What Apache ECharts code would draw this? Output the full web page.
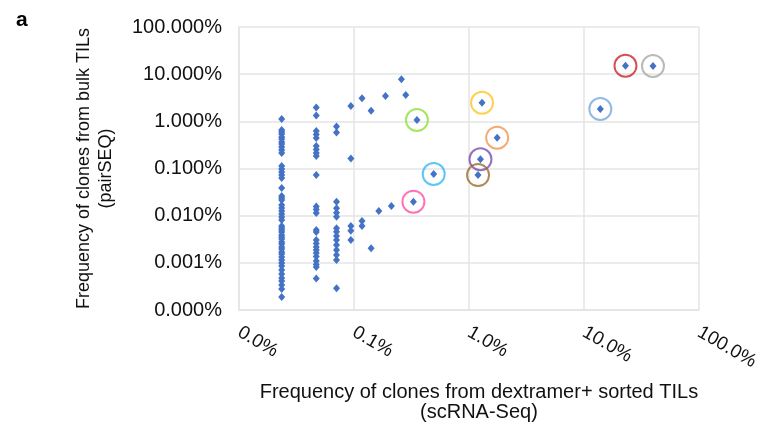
<!DOCTYPE html>
<html>
<head>
<meta charset="utf-8">
<script src="https://cdn.jsdelivr.net/npm/echarts@6/dist/echarts.min.js"></script>
<style>html,body{margin:0;padding:0;background:#fff;}#c{width:762px;height:429px;}</style>
</head>
<body>
<div id="c"></div>
<script>
// Tick labels (log decades)
const xTickLabels = ['0.0%', '0.1%', '1.0%', '10.0%', '100.0%'];
const yTickLabels = ['0.000%', '0.001%', '0.010%', '0.100%', '1.000%', '10.000%', '100.000%'];

// Column x positions (percent, dextramer+ sorted TILs)
const col1X = 0.0235, col2X = 0.047, col3X = 0.0705, col4X = 0.094, col5X = 0.1175;
// Column y values (percent, bulk TILs)
const col1Y = [1.12, 0.655, 0.594, 0.539, 0.466, 0.423, 0.365, 0.331, 0.286, 0.247, 0.213, 0.113, 0.0975, 0.0843, 0.0728, 0.0629, 0.0386, 0.0261, 0.0237, 0.0215, 0.0168, 0.0146, 0.0126, 0.0109, 0.00938, 0.0081, 0.00604, 0.00548, 0.00497, 0.00451, 0.00389, 0.00353, 0.00321, 0.00277, 0.00251, 0.00217, 0.00197, 0.0017, 0.00154, 0.00133, 0.00115, 0.000993, 0.000857, 0.000705, 0.000581, 0.000478, 0.000412, 0.000339, 0.000279, 0.000189];
const col2Y = [1.96, 1.33, 0.624, 0.526, 0.444, 0.300, 0.253, 0.213, 0.184, 0.0728, 0.0157, 0.0135, 0.0114, 0.00497, 0.00451, 0.00305, 0.00257, 0.00217, 0.00187, 0.00162, 0.00136, 0.00109, 0.000923, 0.000817, 0.000466];
const col3Y = [0.778, 0.579, 0.0198, 0.0143, 0.0116, 0.00951, 0.0054, 0.00457, 0.00371, 0.00305, 0.00239, 0.00187, 0.00147, 0.00115, 0.000288];
const col4Y = [2.11, 0.163, 0.00604, 0.0048, 0.00305];
const col5Y = [3.08, 0.00771, 0.00604];
// Other single clones
const otherX = [0.141, 0.141, 0.1645, 0.188, 0.2115, 0.2585, 0.282];
const otherY = [1.68, 0.00203, 0.0126, 3.44, 0.016, 7.78, 3.62];
// Highlighted (circled) clones
const hlX = [0.353, 0.329, 0.494, 1.30, 1.76, 1.26, 1.20, 13.9, 23.0, 39.9];
const hlY = [1.07, 0.0198, 0.0766, 2.48, 0.45, 0.157, 0.0724, 1.83, 15.1, 14.9];
const ringColors = ['#8FE13A', '#FF4FA3', '#35B8F2', '#FFC425', '#F29550', '#7B4FB0', '#9C6A2E', '#76A9DD', '#C9252B', '#A9A9A9'];

const pts = [];
[[col1X, col1Y], [col2X, col2Y], [col3X, col3Y], [col4X, col4Y], [col5X, col5Y]].forEach(([x, ys]) => ys.forEach(y => pts.push([x, y])));
otherX.forEach((x, i) => pts.push([x, otherY[i]]));
hlX.forEach((x, i) => pts.push([x, hlY[i]]));

const rings = hlX.map((x, i) => ({
  value: [x, hlY[i]],
  itemStyle: { color: 'rgba(0,0,0,0)', borderColor: ringColors[i], borderWidth: 2 }
}));

const FONT = "'Liberation Sans', Arial, Helvetica, sans-serif";
const chart = echarts.init(document.getElementById('c'), null, { renderer: 'canvas' });
chart.setOption({
  backgroundColor: '#fff',
  animation: false,
  textStyle: { fontFamily: FONT },
  title: { text: 'a', left: 11, top: 5, textStyle: { fontSize: 21, fontWeight: 'bold', color: '#000', fontFamily: FONT } },
  grid: { left: 239, right: 62, top: 27, bottom: 119, containLabel: false },
  xAxis: {
    type: 'log', logBase: 10, min: 0.01, max: 100,
    name: 'Frequency of clones from dextramer+ sorted TILs\n(scRNA-Seq)',
    nameLocation: 'middle', nameGap: 72,
    nameTextStyle: { fontSize: 20, lineHeight: 20, color: '#111', padding: [0, 0, 0, 20], fontFamily: FONT },
    axisLine: { show: true, lineStyle: { color: '#e4e4e4', width: 1.5 } },
    axisTick: { show: false },
    axisLabel: { rotate: -30, margin: 21, fontSize: 19, color: '#111', fontFamily: FONT,
      formatter: v => xTickLabels[Math.round(Math.log10(v)) + 2] },
    splitLine: { show: true, lineStyle: { color: '#e4e4e4', width: 1.5 } },
    minorTick: { show: false }, minorSplitLine: { show: false }
  },
  yAxis: {
    type: 'log', logBase: 10, min: 0.0001, max: 100,
    name: 'Frequency of clones from bulk TILs\n(pairSEQ)',
    nameLocation: 'middle', nameGap: 122,
    nameTextStyle: { fontSize: 18, lineHeight: 22, color: '#111', fontFamily: FONT },
    axisLine: { show: true, lineStyle: { color: '#e4e4e4', width: 1.5 } },
    axisTick: { show: false },
    axisLabel: { margin: 17, fontSize: 20, color: '#111', fontFamily: FONT,
      formatter: v => yTickLabels[Math.round(Math.log10(v)) + 4] },
    splitLine: { show: true, lineStyle: { color: '#e4e4e4', width: 1.5 } }
  },
  series: [
    { type: 'scatter', data: pts, symbol: 'diamond', symbolSize: [7, 8],
      itemStyle: { color: '#4472C4', opacity: 1 }, z: 3 },
    { type: 'scatter', data: rings, symbol: 'circle', symbolSize: 22, z: 4, silent: true }
  ]
});
</script>
</body>
</html>
